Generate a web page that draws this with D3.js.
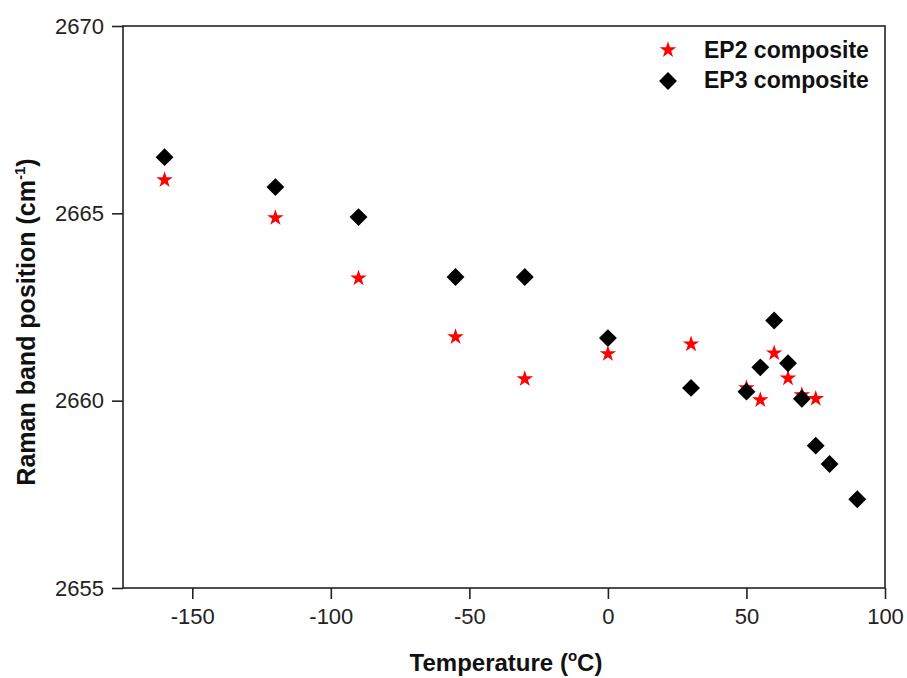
<!DOCTYPE html>
<html>
<head>
<meta charset="utf-8">
<script src="https://cdn.jsdelivr.net/npm/d3@7"></script>
<style>
  body { margin: 0; background: #fff; }
  svg { font-family: Arial, "Liberation Sans", sans-serif; }
</style>
</head>
<body>
<script>
// data
var ep2Temp = [-160, -120, -90, -55, -30, 0, 30, 50, 55, 60, 65, 70, 75];
var ep2Pos = [2665.89, 2664.88, 2663.27, 2661.70, 2660.58, 2661.25, 2661.51, 2660.34, 2660.02, 2661.27, 2660.60, 2660.15, 2660.05];
var ep3Temp = [-160, -120, -90, -55, -30, 0, 30, 50, 55, 60, 65, 70, 75, 80, 90];
var ep3Pos = [2666.50, 2665.70, 2664.90, 2663.30, 2663.30, 2661.67, 2660.34, 2660.24, 2660.89, 2662.14, 2661.00, 2660.05, 2658.80, 2658.31, 2657.37];
var xTicks = [-150, -100, -50, 0, 50, 100];
var yTicks = [2655, 2660, 2665, 2670];
var seriesNames = ["EP2 composite", "EP3 composite"];

var width = 907, height = 678;
var margin = { top: 26, right: 22, bottom: 90, left: 123 };

var svg = d3.select("body").append("svg")
    .attr("width", width)
    .attr("height", height);

var x = d3.scaleLinear().domain([-175, 100]).range([margin.left, width - margin.right]);
var y = d3.scaleLinear().domain([2655, 2670]).range([height - margin.bottom, margin.top]);

var plain = function (d) { return String(d); };

var xAxis = svg.append("g")
    .attr("transform", "translate(0," + (height - margin.bottom) + ")")
    .call(d3.axisBottom(x).tickValues(xTicks).tickFormat(plain).tickSize(11).tickPadding(6).tickSizeOuter(0));
var yAxis = svg.append("g")
    .attr("transform", "translate(" + margin.left + ",0)")
    .call(d3.axisLeft(y).tickValues(yTicks).tickFormat(plain).tickSize(11).tickPadding(8).tickSizeOuter(0));

[xAxis, yAxis].forEach(function (g) {
    g.select(".domain").remove();
    g.selectAll(".tick line").attr("stroke", "#222").attr("stroke-width", 1.6);
    g.selectAll(".tick text").attr("font-size", 22).attr("fill", "#222")
        .attr("font-family", "Arial, 'Liberation Sans', sans-serif");
});
xAxis.selectAll(".tick text").attr("dy", "0.85em");

// frame
svg.append("rect")
    .attr("x", x(-175)).attr("y", y(2670))
    .attr("width", x(100) - x(-175)).attr("height", y(2655) - y(2670))
    .attr("fill", "none").attr("stroke", "#222").attr("stroke-width", 1.6);

var star = d3.symbol().type(d3.symbolStar).size(85);
var diamond = d3.symbol().type(d3.symbolSquare).size(160);

// stars first, diamonds on top
svg.append("g").selectAll("path.ep2").data(ep2Temp).enter().append("path")
    .attr("d", star)
    .attr("transform", function (d, i) { return "translate(" + x(d) + "," + y(ep2Pos[i]) + ")"; })
    .attr("fill", "#ff0000");

svg.append("g").selectAll("path.ep3").data(ep3Temp).enter().append("path")
    .attr("d", diamond)
    .attr("transform", function (d, i) { return "translate(" + x(d) + "," + y(ep3Pos[i]) + ") rotate(45)"; })
    .attr("fill", "#000");

// legend
var legend = svg.append("g");
legend.append("path").attr("d", star).attr("fill", "#ff0000")
    .attr("transform", "translate(668,50)");
legend.append("path").attr("d", diamond).attr("fill", "#000")
    .attr("transform", "translate(668,81) rotate(45)");
legend.selectAll("text").data(seriesNames).enter().append("text")
    .attr("x", 704)
    .attr("y", function (d, i) { return 58 + i * 30; })
    .attr("font-size", 23).attr("font-weight", "bold").attr("fill", "#111")
    .text(function (d) { return d; });

// axis titles
var xt = svg.append("text")
    .attr("x", (x(-175) + x(100)) / 2 + 2).attr("y", 671)
    .attr("text-anchor", "middle").attr("font-size", 24).attr("font-weight", "bold").attr("fill", "#111");
xt.append("tspan").text("Temperature (");
xt.append("tspan").attr("font-size", 15).attr("dy", -10).text("o");
xt.append("tspan").attr("dy", 10).text("C)");

var yt = svg.append("text")
    .attr("transform", "translate(35,322) rotate(-90)")
    .attr("text-anchor", "middle").attr("font-size", 25).attr("font-weight", "bold").attr("fill", "#111");
yt.append("tspan").text("Raman band position (cm");
yt.append("tspan").attr("font-size", 15).attr("dy", -10).text("-1");
yt.append("tspan").attr("dy", 10).text(")");
</script>
</body>
</html>
